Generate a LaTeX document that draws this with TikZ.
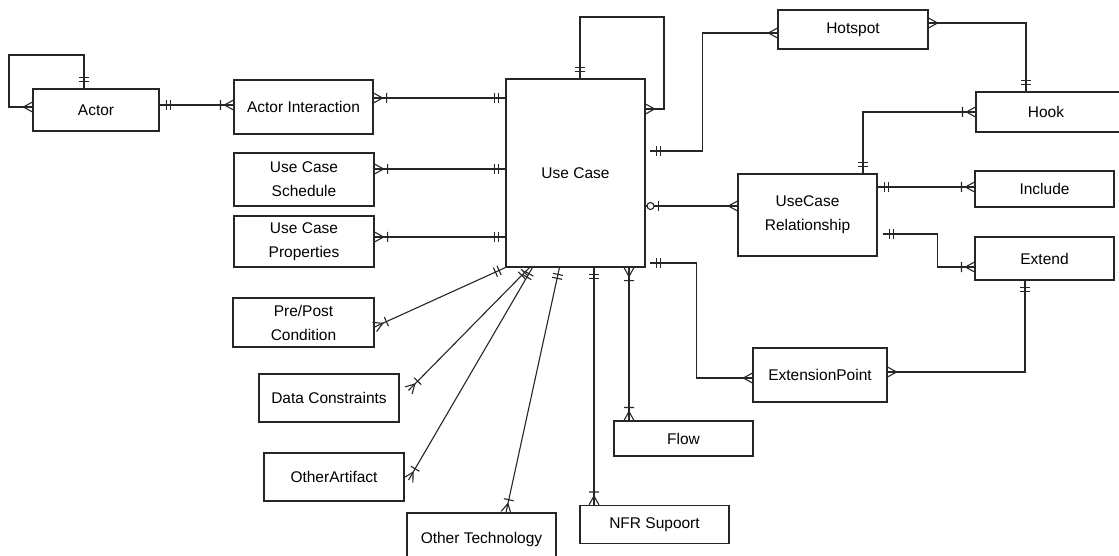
\documentclass[tikz,border=0pt]{standalone}
\usepackage{fontspec}
\setmainfont{Liberation Sans}
\usetikzlibrary{decorations.markings,calc}
\tikzset{
  ent/.style={draw=black!85, line width=1.1pt, fill=white, inner sep=0pt, align=center,
    font=\fontsize{15.5}{24}\selectfont},
  conn/.style={draw=black!85, line width=1.1pt},
  dbar/.pic={\draw[line width=1.1pt,black!85] (7pt,-5pt)--(7pt,5pt) (11pt,-5pt)--(11pt,5pt);},
  crow/.pic={\draw[line width=1.1pt,black!85] (0pt,-5pt)--(9pt,0pt)--(0pt,5pt);},
  crowbar/.pic={\draw[line width=1.1pt,black!85] (0pt,-5pt)--(9pt,0pt)--(0pt,5pt) (13pt,-5pt)--(13pt,5pt);},
  circbar/.pic={\draw[line width=1.1pt,black!85,fill=white] (5pt,0pt) circle (3.5pt);
                \draw[line width=1.1pt,black!85] (13pt,-5pt)--(13pt,5pt);},
  startmk/.style={postaction={decorate,decoration={markings,mark=at position 0 with {\pic[transform shape]{#1};}}}},
  endmk/.style={postaction={decorate,decoration={markings,mark=at position 1 with {\pic[transform shape,xscale=-1]{#1};}}}},
}
\begin{document}
\begin{tikzpicture}[x=1pt,y=-1pt]
\useasboundingbox (0,0) rectangle (1119,556);
\fill[white] (0,0) rectangle (1119,556);
\clip (0,0) rectangle (1119,556);

% entities
\node[ent, minimum width=126pt, minimum height=42pt] (actor) at (96,110) {Actor};
\node[ent, minimum width=139pt, minimum height=54pt] (ai) at (303.5,107) {Actor Interaction};
\node[ent, minimum width=139pt, minimum height=188pt] (uc) at (575.5,173) {Use Case};
\node[ent, minimum width=140pt, minimum height=53pt] (ucs) at (304,179.5) {Use Case\\Schedule};
\node[ent, minimum width=140pt, minimum height=51pt] (ucp) at (304,241.5) {Use Case\\Properties};
\node[ent, minimum width=141pt, minimum height=49pt] (pp) at (303.5,322.5) {Pre/Post\\Condition};
\node[ent, minimum width=140pt, minimum height=48pt] (dc) at (329,398) {Data Constraints};
\node[ent, minimum width=140pt, minimum height=48pt] (oa) at (334,477) {OtherArtifact};
\node[ent, minimum width=149pt, minimum height=52pt] (ot) at (481.5,539) {Other Technology};
\node[ent, minimum width=149pt, minimum height=38pt] (nfr) at (654.5,524.5) {NFR Supoort};
\node[ent, minimum width=139pt, minimum height=35pt] (flow) at (683.5,438.5) {Flow};
\node[ent, minimum width=134pt, minimum height=54pt] (ep) at (820,375) {ExtensionPoint};
\node[ent, minimum width=139pt, minimum height=82pt] (ucr) at (807.5,215) {UseCase\\Relationship};
\node[ent, minimum width=139pt, minimum height=36pt] (inc) at (1044.5,189) {Include};
\node[ent, minimum width=139pt, minimum height=43pt] (ext) at (1044.5,258.5) {Extend};
\node[ent, minimum width=150pt, minimum height=40pt] (hook) at (1051,112) {\kern-10pt Hook};
\node[ent, minimum width=150pt, minimum height=39pt] (hs) at (853,29.5) {Hotspot};

% attachment coordinates
\coordinate (actR) at ($(actor.east)+(0,-5)$);
\coordinate (aiR) at ($(ai.east)+(0,-9)$);
\coordinate (ucsR) at ($(ucs.east)+(0,-10.5)$);
\coordinate (ucpR) at ($(ucp.east)+(0,-4.5)$);
\coordinate (ucR) at ($(uc.east)+(0,33)$);
\coordinate (ucrR1) at ($(ucr.east)+(0,-28)$);

% Actor self loop
\draw[conn, startmk=dbar, endmk=crow] ($(actor.north)+(-12,0)$) |- (9,55) |- ($(actor.west)+(0,-3)$);
% Actor - Actor Interaction
\draw[conn, startmk=dbar, endmk=crowbar] (actR) -- (actR -| ai.west);
% left side to Use Case
\draw[conn, startmk=crowbar, endmk=dbar] (aiR) -- (aiR -| uc.west);
\draw[conn, startmk=crowbar, endmk=dbar] (ucsR) -- (ucsR -| uc.west);
\draw[conn, startmk=crowbar, endmk=dbar] (ucpR) -- (ucpR -| uc.west);
% Use Case self loop
\draw[conn, startmk=dbar, endmk=crow] ($(uc.north)+(4.5,0)$) |- (664,17) |- ($(uc.east)+(0,-64)$);
% Use Case - Hotspot
\draw[conn, startmk=dbar, endmk=crow] ($(uc.east)+(4,-22)$) -- ++(53,0) |- ($(hs.west)+(0,3.5)$);
% Use Case - UseCase Relationship
\draw[conn, startmk=circbar, endmk=crow] (ucR) -- (ucR -| ucr.west);
% Use Case - ExtensionPoint
\draw[conn, startmk=dbar, endmk=crow] ($(uc.east)+(4,90)$) -- ++(47,0) |- ($(ep.west)+(0,3)$);
% Hotspot - Hook
\draw[conn, startmk=crow, endmk=dbar] ($(hs.east)+(0,-6.5)$) -| ($(hook.north)+(-25,0)$);
% Hook - UseCase Relationship
\draw[conn, startmk=crowbar, endmk=dbar] (hook.west) -| ($(ucr.north)+(55.5,0)$);
% UseCase Relationship - Include
\draw[conn, startmk=dbar, endmk=crowbar] (ucrR1) -- (ucrR1 -| inc.west);
% UseCase Relationship - Extend
\draw[conn, startmk=dbar, endmk=crowbar] ($(ucr.east)+(5,19)$) -- ++(55,0) |- ($(ext.west)+(0,8.5)$);
% ExtensionPoint - Extend
\draw[conn, startmk=crow, endmk=dbar] ($(ep.east)+(0,-3)$) -| ($(ext.south)+(-19.5,0)$);
% bottom fan
\draw[conn, startmk=dbar, endmk=crowbar] (uc.south west) -- ($(pp.east)+(0,4.5)$);
\draw[conn, startmk=dbar, endmk=crowbar] ($(uc.south west)+(24,0)$) -- ($(dc.north east)+(9,17)$);
\draw[conn, startmk=dbar, endmk=crowbar] ($(uc.south west)+(27,0)$) -- ($(oa.east)+(4,3)$);
\draw[conn, startmk=dbar, endmk=crowbar] ($(uc.south west)+(54,0)$) -- ($(ot.north)+(24.5,0)$);
\coordinate (nfrT) at ($(uc.south)+(18.5,0)$);
\draw[conn, startmk=dbar, endmk=crowbar] (nfrT) -- (nfrT |- nfr.north);
\coordinate (flowT) at ($(uc.south)+(53.5,0)$);
\draw[conn, startmk=crowbar, endmk=crowbar] (flowT) -- (flowT |- flow.north);
\end{tikzpicture}
\end{document}
